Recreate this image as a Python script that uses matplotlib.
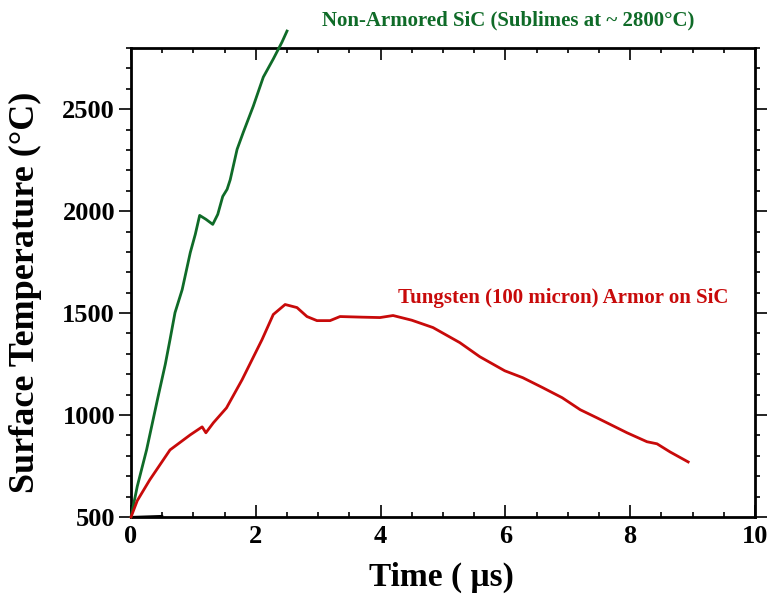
import matplotlib.pyplot as plt
from matplotlib.ticker import MultipleLocator

plt.rcParams['font.family'] = ['Liberation Serif', 'DejaVu Serif']

# Non-armored SiC surface temperature
sic_t = [0.0, 0.1, 0.25, 0.43, 0.55, 0.625, 0.705, 0.82, 0.95, 1.03, 1.1, 1.2, 1.31,
         1.39, 1.47, 1.54, 1.59, 1.70, 1.80, 1.96, 2.12, 2.28, 2.42, 2.50]
sic_temp = [500, 650, 830, 1085, 1250, 1370, 1502, 1615, 1797, 1886, 1979, 1960, 1935,
            1984, 2072, 2107, 2154, 2303, 2387, 2515, 2657, 2746, 2829, 2883]

# Tungsten armor on SiC
w_t = [0.0, 0.1, 0.30, 0.625, 0.95, 1.14, 1.2, 1.32, 1.53, 1.78, 2.1, 2.28, 2.47, 2.66,
       2.82, 2.98, 3.19, 3.35, 3.7, 3.99, 4.2, 4.5, 4.84, 5.27, 5.59, 5.99, 6.28, 6.6,
       6.91, 7.2, 7.47, 7.95, 8.27, 8.43, 8.64, 8.93]
w_temp = [500, 580, 682, 829, 903, 942, 913, 962, 1035, 1173, 1370, 1493, 1542, 1527,
          1483, 1463, 1463, 1483, 1480, 1478, 1488, 1465, 1429, 1355, 1286, 1217, 1183, 1134,
          1085, 1026, 986, 913, 869, 859, 819, 770]

base_t = [0.0, 0.5]
base_temp = [500, 505]

green = '#0f6b28'
red = '#c80a0a'

fig = plt.figure(figsize=(7.68, 5.99), dpi=100)
ax = fig.add_axes([0.1706, 0.1369, 0.8124, 0.7830])

ax.plot(sic_t, sic_temp, color=green, lw=2, clip_on=False, zorder=3)
ax.plot(w_t, w_temp, color=red, lw=2, clip_on=False, zorder=3)
ax.plot(base_t, base_temp, color='black', lw=1.5, clip_on=False, zorder=2)

ax.set_xlim(0, 10)
ax.set_ylim(500, 2800)
ax.xaxis.set_major_locator(MultipleLocator(2))
ax.xaxis.set_minor_locator(MultipleLocator(0.5))
ax.yaxis.set_major_locator(MultipleLocator(500))
ax.yaxis.set_minor_locator(MultipleLocator(100))

ax.tick_params(axis='x', which='both', direction='in', top=True, bottom=True, width=1.2)
ax.tick_params(axis='y', which='both', direction='out', left=True, right=True, width=1.2)
ax.tick_params(which='major', length=8.5)
ax.tick_params(which='minor', length=3.8)
ax.tick_params(axis='both', labelsize=19)
ax.tick_params(axis='y', pad=3)
ax.tick_params(axis='x', pad=6)
for lab in ax.get_xticklabels() + ax.get_yticklabels():
    lab.set_fontweight('bold')
for s in ax.spines.values():
    s.set_linewidth(2)

ax.set_xlabel('Time ( μs)', fontsize=24, fontweight='bold')
ax.xaxis.set_label_coords(0.498, -0.095)
ax.set_ylabel('Surface Temperature (°C)', fontsize=26, fontweight='bold')
ax.yaxis.set_label_coords(-0.143, 0.48)

fig.text(0.419, 0.965, 'Non-Armored SiC (Sublimes at ~ 2800°C)', color=green,
         fontsize=15, fontweight='bold', va='center', ha='left')
fig.text(0.518, 0.502, 'Tungsten (100 micron) Armor on SiC', color=red,
         fontsize=15, fontweight='bold', va='center', ha='left')

fig.savefig('out.png', dpi=100)
